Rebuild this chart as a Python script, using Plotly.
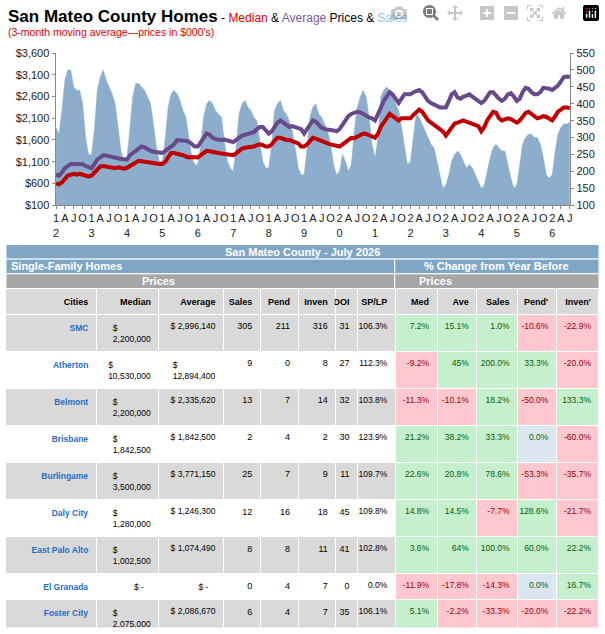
import pandas as pd
import plotly.graph_objects as go

# --- chart data (3-month moving averages, Jan 2012 .. Jul 2026) ---
months = pd.date_range("2012-01-01", "2026-07-01", freq="MS")

median_k = [600, 580, 620, 700, 780, 800, 820, 800, 820, 800, 780, 760,
            780, 850, 920, 990, 1000, 990, 980, 960, 950, 970, 960, 940,
            960, 1000, 1050, 1100, 1120, 1110, 1100, 1080, 1060, 1070, 1060, 1050,
            1050, 1100, 1200, 1300, 1300, 1290, 1280, 1250, 1220, 1200, 1210, 1200,
            1200, 1250, 1300, 1350, 1340, 1320, 1310, 1300, 1290, 1280, 1260, 1250,
            1250, 1300, 1350, 1400, 1420, 1430, 1420, 1450, 1480, 1500, 1480, 1450,
            1450, 1500, 1580, 1650, 1650, 1620, 1600, 1600, 1580, 1560, 1520, 1450,
            1450, 1500, 1580, 1650, 1630, 1600, 1560, 1540, 1520, 1500, 1490, 1480,
            1450, 1500, 1550, 1620, 1650, 1640, 1680, 1720, 1750, 1740, 1700, 1680,
            1650, 1750, 1900, 2000, 2100, 2200, 2150, 2100, 2050, 2100, 2100, 2080,
            2100, 2180, 2250, 2300, 2250, 2150, 2050, 2000, 1950, 1900, 1850, 1800,
            1700, 1800, 1900, 1980, 2000, 2020, 2050, 2020, 2000, 1980, 1950, 1920,
            1800, 1900, 2050, 2150, 2250, 2230, 2100, 2050, 2080, 2100, 2080, 2050,
            2000, 2050, 2150, 2220, 2250, 2200, 2150, 2100, 2120, 2150, 2130, 2080,
            2050, 2150, 2250, 2300, 2350, 2350, 2330]

average_k = [800, 780, 850, 950, 1000, 1050, 1050, 1040, 1050, 1040, 1000, 980,
             950, 1050, 1150, 1200, 1250, 1240, 1230, 1220, 1200, 1180, 1160, 1150,
             1150, 1250, 1300, 1350, 1400, 1450, 1430, 1380, 1350, 1330, 1320, 1300,
             1300, 1350, 1400, 1450, 1500, 1600, 1600, 1590, 1580, 1560, 1500, 1450,
             1450, 1550, 1650, 1750, 1720, 1650, 1620, 1600, 1600, 1610, 1600, 1570,
             1550, 1600, 1650, 1700, 1720, 1740, 1750, 1780, 1850, 1900, 1900, 1820,
             1750, 1800, 1900, 2000, 2050, 2000, 1950, 1900, 1920, 1900, 1880, 1850,
             1750, 1850, 1950, 2050, 2020, 1950, 1880, 1850, 1850, 1830, 1820, 1800,
             1850, 1950, 2050, 2150, 2200, 2220, 2250, 2240, 2200, 2150, 2120, 2100,
             2050, 2200, 2350, 2500, 2600, 2700, 2650, 2550, 2450, 2550, 2650, 2650,
             2650, 2700, 2720, 2750, 2700, 2600, 2500, 2450, 2420, 2380, 2350, 2350,
             2350, 2500, 2650, 2700, 2580, 2550, 2600, 2620, 2650, 2600, 2550, 2480,
             2450, 2500, 2600, 2700, 2700, 2620, 2550, 2500, 2550, 2650, 2680, 2600,
             2500, 2550, 2700, 2800, 2780, 2700, 2650, 2650, 2700, 2800, 2800, 2780,
             2750, 2800, 2850, 2950, 3050, 3060, 3050]

sales = [330, 310, 380, 470, 500, 500, 450, 440, 440, 400, 300, 250,
         250, 330, 440, 480, 500, 470, 450, 430, 400, 330, 260, 230,
         240, 330, 420, 460, 460, 450, 440, 420, 400, 340, 270, 230,
         230, 300, 390, 430, 440, 430, 410, 380, 360, 300, 240, 220,
         220, 280, 360, 400, 410, 400, 380, 370, 360, 290, 230, 210,
         200, 280, 370, 400, 410, 390, 380, 360, 350, 290, 230, 210,
         210, 280, 380, 400, 410, 380, 370, 350, 320, 270, 210, 190,
         190, 270, 360, 390, 400, 370, 360, 340, 320, 280, 220, 190,
         200, 250, 230, 200, 220, 320, 390, 420, 440, 420, 360, 280,
         240, 300, 420, 440, 450, 440, 420, 400, 380, 330, 280, 220,
         230, 300, 370, 360, 340, 320, 300, 280, 270, 230, 180, 150,
         160, 190, 230, 250, 260, 250, 230, 210, 220, 210, 190, 170,
         150, 160, 200, 240, 270, 280, 270, 260, 260, 220, 180, 150,
         160, 220, 280, 300, 310, 310, 300, 300, 280, 240, 190, 180,
         190, 260, 310, 330, 340, 340, 345]

# quarterly tick labels: Jan shows the two-digit year stacked
tick_dates = pd.date_range("2012-01-01", "2026-07-01", freq="QS")
month_letter = {1: None, 4: "A", 7: "J", 10: "O"}
tick_text = [("%d<br>%d" % divmod(d.year % 100, 10)) if d.month == 1 else month_letter[d.month]
             for d in tick_dates]

# --- table data ---
cities = ["SMC", "Atherton", "Belmont", "Brisbane", "Burlingame", "Daly City", "East Palo Alto",
          "El Granada", "Foster City", "Half Moon Bay", "Hillsborough", "Menlo Park", "Millbrae",
          "Montara", "Moss Beach", "Pacifica", "Portola Valley", "Redwood City", "Redwood Shores",
          "outh San Francisco", "San Bruno", "San Carlos", "San Mateo", "Woodside"]
median_price = ["2,200,000", "10,530,000", "2,200,000", "1,842,500", "3,500,000", "1,280,000",
                "1,002,500", "-", "2,075,000", "1,510,000", "7,470,000", "3,250,000", "2,537,500",
                "1,465,000", "1,300,000", "1,292,500", "6,100,000", "2,475,000", "2,490,000",
                "1,285,000", "1,624,470", "2,702,500", "2,121,000", "4,075,000"]
average_price = ["2,996,140", "12,894,400", "2,335,620", "1,842,500", "3,771,150", "1,246,300",
                 "1,074,490", "-", "2,086,670", "1,708,000", "8,169,890", "3,554,980", "2,456,120",
                 "1,465,000", "1,275,500", "1,985,410", "6,356,000", "2,778,790", "2,362,000",
                 "1,295,140", "1,678,190", "2,787,750", "2,365,650", "4,251,600"]
sales_n = [305, 9, 13, 2, 25, 12, 8, 0, 6, 10, 9, 21, 8, 1, 3, 26, 5, 42, 3, 7, 10, 20, 49, 5]
pend_n = [211, 0, 7, 4, 7, 16, 8, 4, 4, 9, 6, 23, 5, 2, 2, 14, 6, 28, 0, 10, 10, 13, 20, 10]
inven_n = [316, 8, 14, 2, 9, 18, 11, 7, 7, 18, 14, 17, 2, 4, 5, 24, 11, 50, 0, 12, 10, 17, 21, 17]
doi_n = [31, 27, 32, 30, 11, 45, 41, 0, 35, 54, 47, 24, 8, 120, 50, 28, 66, 36, 0, 46, 30, 26, 13, 102]
splp = ["106.3%", "112.3%", "103.8%", "123.9%", "109.7%", "109.8%", "102.8%", "0.0%", "106.1%",
        "97.5%", "105.6%", "104.8%", "106.2%", "97.7%", "99.8%", "103.7%", "97.0%", "107.7%",
        "100.6%", "110.3%", "105.8%", "108.4%", "108.5%", "98.5%"]
chg_med = ["7.2%", "-9.2%", "-11.3%", "21.2%", "22.6%", "14.8%", "3.6%", "-11.9%", "5.1%", "-31.4%",
           "52.1%", "2.8%", "16.4%", "9.5%", "-27.8%", "1.0%", "1.3%", "10.0%", "18.6%", "-13.9%",
           "9.4%", "1.4%", "4.7%", "35.6%"]
chg_ave = ["15.1%", "45%", "-10.1%", "38.2%", "20.8%", "14.5%", "64%", "-17.8%", "-2.2%", "-23.3%",
           "43.8%", "-6.3%", "11.6%", "50%", "-57.3%", "52.8%", "56%", "25.4%", "12.5%", "-15.2%",
           "15.3%", "54%", "07%", "20%"]
chg_sales = ["1.0%", "200.0%", "18.2%", "33.3%", "78.6%", "-7.7%", "100.0%", "-14.3%", "-33.3%",
             "42.9%", "-40.0%", "-41.7%", "-20.0%", "-75.0%", "0.0%", "52.9%", "400.0%", "7.7%",
             "50.0%", "-36.4%", "-60.0%", "-9.1%", "2.1%", "0.0%"]
chg_pend = ["-10.6%", "33.3%", "-50.0%", "0.0%", "-53.3%", "128.6%", "60.0%", "0.0%", "-20.0%",
            "-18.2%", "20.0%", "27.8%", "-50.0%", "100.0%", "-33.3%", "16.7%", "20.0%", "-9.7%",
            "-50.0%", "11.1%", "11.1%", "-18.8%", "-45.9%", "100.0%"]
chg_inven = ["-22.9%", "-20.0%", "133.3%", "-60.0%", "-35.7%", "-21.7%", "22.2%", "16.7%", "-22.2%",
             "-28.0%", "-44.0%", "-46.9%", "-60.0%", "0.0%", "66.7%", "0.0%", "-47.6%", "13.6%",
             "0.0%", "33.3%", "-33.3%", "6.3%", "-50.0%", "-51.4%"]

W, H = 605, 634
FONT = "Liberation Sans, Arial, sans-serif"

fig = go.Figure()

# sales area on the base axis so that the price lines (overlaying axis) sit on top
fig.add_trace(go.Scatter(x=months, y=sales, yaxis="y", mode="lines", fill="tozeroy",
                         line=dict(color="#8caecc", width=0.5), fillcolor="#8caecc"))
fig.add_trace(go.Scatter(x=months, y=median_k, yaxis="y2", mode="lines",
                         line=dict(color="#c00000", width=4)))
fig.add_trace(go.Scatter(x=months, y=average_k, yaxis="y2", mode="lines",
                         line=dict(color="#68498a", width=4)))

# table colours
row_bg = ["#d9d9d9" if i % 2 == 0 else "#ffffff" for i in range(len(cities))]


def pct_fill(vals):
    out = []
    for v in vals:
        n = float(v.rstrip("%"))
        out.append("#c6efce" if n > 0 else "#ffc7ce" if n < 0 else "#dce6f1")
    return out


def pct_font(vals):
    out = []
    for v in vals:
        n = float(v.rstrip("%"))
        out.append("#9c0006" if n < 0 else "#006100")
    return out


pct_cols = [chg_med, chg_ave, chg_sales, chg_pend, chg_inven]
fmt_money = lambda v: "$ " + (v if v != "-" else "-&nbsp;&nbsp;&nbsp;")

col_w = [91, 63, 65, 37, 38, 38, 22, 38, 42, 40, 41, 39, 43]
headers = ["<b>Cities</b>", "<b>Median</b>", "<b>Average</b>", "<b>Sales</b>", "<b>Pend</b>",
           "<b>Inven</b>", "<b>DOI</b>", "<b>SP/LP</b>", "<b>Med</b>", "<b>Ave</b>", "<b>Sales</b>",
           "<b>Pend'</b>", "<b>Inven'</b>"]

cell_vals = [["<b>%s</b>" % c for c in cities],
             [fmt_money(v) for v in median_price],
             [fmt_money(v) for v in average_price],
             sales_n, pend_n, inven_n, doi_n, splp] + pct_cols
cell_fill = [row_bg] * 8 + [pct_fill(c) for c in pct_cols]
cell_font = [["#1f6fc5"] * len(cities)] + [["#000000"] * len(cities)] * 7 + [pct_font(c) for c in pct_cols]

tbl_top, tbl_bottom = 288, 634
fig.add_trace(go.Table(
    domain=dict(x=[3 / W, 601 / W], y=[1 - tbl_bottom / H, 1 - tbl_top / H]),
    columnwidth=col_w,
    header=dict(values=headers, align="right", height=14, fill_color="#d9d9d9",
                line=dict(color="#ffffff", width=1),
                font=dict(family=FONT, size=9, color="black")),
    cells=dict(values=cell_vals, align="right", height=13.7, fill_color=cell_fill,
               line=dict(color="#ffffff", width=1),
               font=dict(family=FONT, size=[8.5, 8.5, 8.5, 9, 9, 9, 9, 8.5, 8.5, 8.5, 8.5, 8.5, 8.5],
                         color=cell_font)),
))


# table title bands drawn as shapes
def band(y0, y1, x0, x1, color):
    fig.add_shape(type="rect", xref="paper", yref="paper", x0=x0 / W, x1=x1 / W,
                  y0=1 - y1 / H, y1=1 - y0 / H, fillcolor=color, line=dict(color="#ffffff", width=1),
                  layer="above")


band(243, 258, 3, 601, "#7fa7c5")
band(258, 273, 3, 395, "#7fa7c5")
band(258, 273, 395, 601, "#7fa7c5")
band(273, 288, 3, 395, "#a6a6a6")
band(273, 288, 395, 601, "#a6a6a6")

band_font = dict(family=FONT, size=11, color="white")
for txt, x, y, anchor in [("<b>San Mateo County - July 2026</b>", 302, 250.5, "center"),
                          ("<b>Single-Family Homes</b>", 6, 265.5, "left"),
                          ("<b>% Change from Year Before</b>", 498, 265.5, "center"),
                          ("<b>Prices</b>", 157, 280.5, "center"),
                          ("<b>Prices</b>", 436, 280.5, "center")]:
    fig.add_annotation(text=txt, x=x / W, y=1 - y / H, xref="paper", yref="paper",
                       xanchor=anchor, yanchor="middle", showarrow=False, font=band_font)

# chart titles
fig.add_annotation(
    text="<b><span style='font-size:17px'>San Mateo County Homes</span></b>"
         " - <span style='color:#e00000'>Median</span> &amp; "
         "<span style='color:#7a5aa0'>Average</span> Prices &amp; <span style='color:#1f8fd6'>Sales</span>",
    x=3 / W, y=1 - 11 / H, xref="paper", yref="paper", xanchor="left", yanchor="middle",
    showarrow=False, font=dict(family=FONT, size=12, color="black"))
fig.add_annotation(
    text="(3-month moving average—prices in $000's)",
    x=3 / W, y=1 - 26 / H, xref="paper", yref="paper", xanchor="left", yanchor="middle",
    showarrow=False, font=dict(family=FONT, size=10.5, color="#e00000"))

axis_font = dict(family=FONT, size=11, color="#222")
fig.update_layout(
    width=W, height=H, margin=dict(l=0, r=0, t=0, b=0),
    paper_bgcolor="white", plot_bgcolor="white", showlegend=False,
    xaxis=dict(domain=[53 / W, 572 / W], range=[months[0] - pd.Timedelta(days=5), months[-1] + pd.Timedelta(days=5)],
               tickvals=tick_dates, ticktext=tick_text, tickangle=0, showgrid=False,
               showline=True, linecolor="#888", ticks="outside", ticklen=3, tickcolor="#888",
               tickfont=axis_font, anchor="y"),
    yaxis=dict(domain=[1 - 203 / H, 1 - 48 / H], range=[100, 550], dtick=50, side="right",
               showgrid=False, showline=True, linecolor="#888", ticks="outside", ticklen=3,
               tickcolor="#888", tickfont=axis_font, zeroline=False),
    yaxis2=dict(range=[100, 3600], tickvals=list(range(100, 3601, 500)),
                ticktext=["${:,}".format(v) for v in range(100, 3601, 500)], overlaying="y", side="left",
                anchor="x", showgrid=False, showline=True, linecolor="#888", ticks="outside", ticklen=3,
                tickcolor="#888", tickfont=axis_font, zeroline=False),
)

fig.write_html("out.html", post_script="document.body.style.margin='0';")
